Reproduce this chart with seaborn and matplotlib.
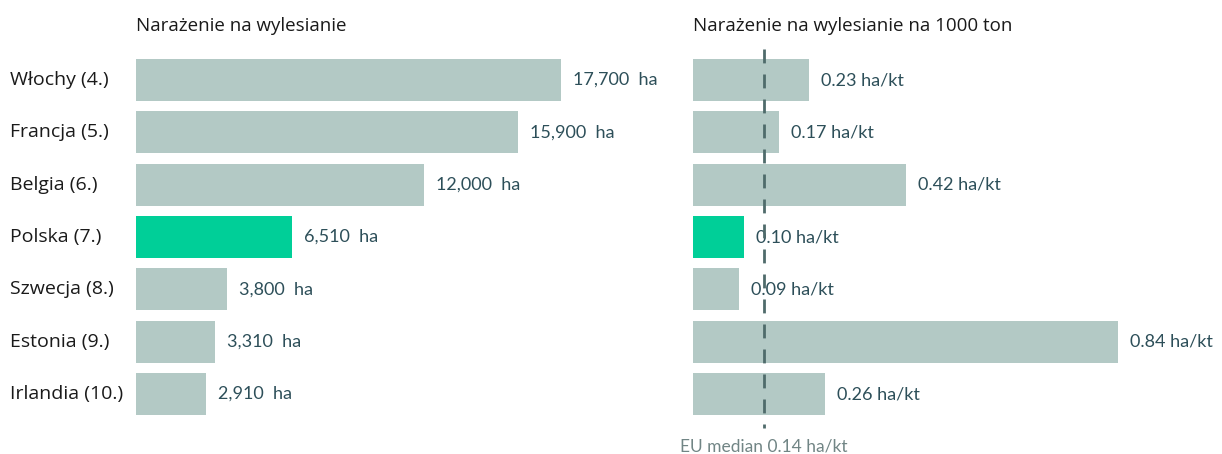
import matplotlib
matplotlib.use("Agg")
import matplotlib.pyplot as plt
import seaborn as sns
import pandas as pd

countries = ["Włochy (4.)", "Francja (5.)", "Belgia (6.)", "Polska (7.)",
             "Szwecja (8.)", "Estonia (9.)", "Irlandia (10.)"]
exposure_ha = [17700, 15900, 12000, 6510, 3800, 3310, 2910]
exposure_per_kt = [0.23, 0.17, 0.42, 0.10, 0.09, 0.84, 0.26]
highlight = [False, False, False, True, False, False, False]
eu_median = 0.14

title_left = "Narażenie na wylesianie"
title_right = "Narażenie na wylesianie na 1000 ton"
median_label = "EU median 0.14 ha/kt"

GREY = "#b3c9c5"
GREEN = "#00cf98"
TEXT = "#2d4f59"
DARK = "#1a1a1a"
MED = "#4f6b6b"
MEDTXT = "#718585"

sns.set_theme(style="white")
plt.rcParams['font.family'] = ['Lato', 'DejaVu Sans']

df = pd.DataFrame({"country": countries, "ha": exposure_ha,
                   "perkt": exposure_per_kt,
                   "hl": ["y" if h else "n" for h in highlight]})
palette = {"y": GREEN, "n": GREY}

W, H = 1222, 454
fig = plt.figure(figsize=(W / 100, H / 100), dpi=100)
bottom = (H - 420.2) / H
height = 366.3 / H
axL = fig.add_axes([136 / W, bottom, 425 / W, height])
axR = fig.add_axes([693 / W, bottom, 425 / W, height])

sns.barplot(data=df, y="country", x="ha", hue="hl", palette=palette,
            dodge=False, legend=False, width=0.8, ax=axL, orient="h",
            saturation=1, linewidth=0)
sns.barplot(data=df, y="country", x="perkt", hue="hl", palette=palette,
            dodge=False, legend=False, width=0.8, ax=axR, orient="h",
            saturation=1, linewidth=0)

axL.set_xlim(0, 17700)
axR.set_xlim(0, 0.84)
for ax in (axL, axR):
    ax.set_ylim(6.5, -0.5)
    ax.set_xlabel("")
    ax.set_ylabel("")
    ax.set_xticks([])
    ax.set_yticks([])
    for s in ax.spines.values():
        s.set_visible(False)

# country labels, left-aligned at the figure's left margin
for i, c in enumerate(countries):
    axL.annotate(c, xy=(0, i), xycoords=("axes fraction", "data"),
                 xytext=(10 / W, 0), textcoords=("figure fraction", "offset points"),
                 ha="left", va="center", fontsize=14, color=DARK,
                 family=['Open Sans', 'DejaVu Sans'], annotation_clip=False)

for i, v in enumerate(exposure_ha):
    axL.text(v + 17700 * 12 / 425, i, f"{v:,}  ha", va="center", ha="left",
             fontsize=13, color=TEXT, clip_on=False)
for i, v in enumerate(exposure_per_kt):
    axR.text(v + 0.84 * 12 / 425, i, f"{v:.2f} ha/kt", va="center", ha="left",
             fontsize=13, color=TEXT, clip_on=False)

axR.plot([eu_median, eu_median], [-0.6, 6.65], color=MED, lw=2,
         dashes=(5, 4), clip_on=False, zorder=5)
fig.text(693 / W + eu_median / 0.84 * 425 / W, 1 - 446 / H, median_label,
         ha="center", va="center", fontsize=12.5, color=MEDTXT)

fig.text(136 / W, 1 - 26 / H, title_left, ha="left", va="center",
         fontsize=13.5, color=DARK, family=['Open Sans', 'DejaVu Sans'])
fig.text(693 / W, 1 - 26 / H, title_right, ha="left", va="center",
         fontsize=13.5, color=DARK, family=['Open Sans', 'DejaVu Sans'])

fig.savefig("out.png", dpi=100, facecolor="white")
